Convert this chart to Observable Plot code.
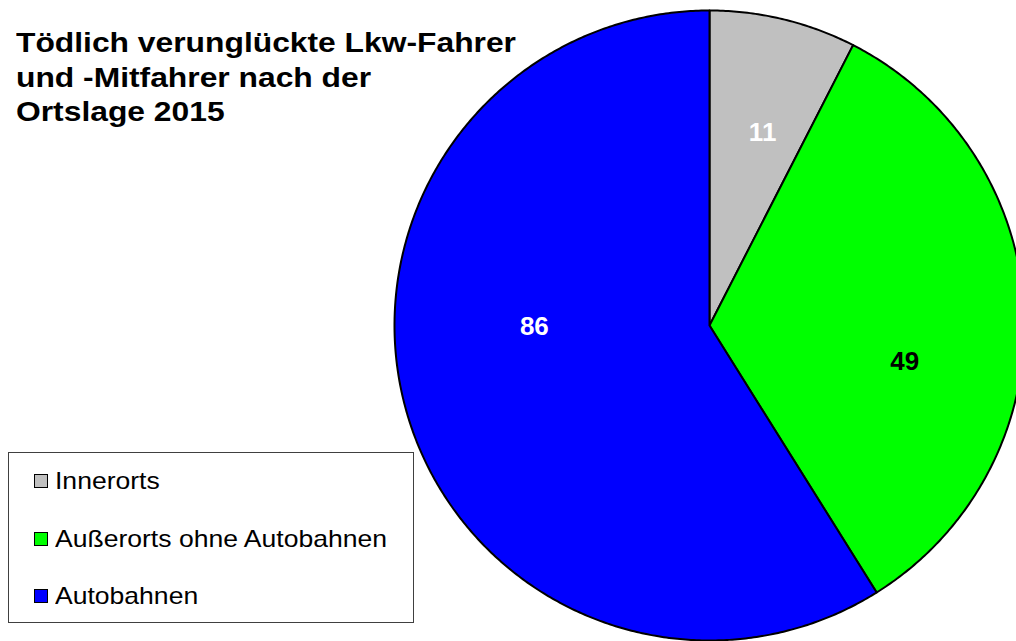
<!DOCTYPE html>
<html>
<head>
<meta charset="utf-8">
<script src="https://cdn.jsdelivr.net/npm/d3@7"></script>
<script src="https://cdn.jsdelivr.net/npm/@observablehq/plot@0.6"></script>
<style>
  html, body { margin: 0; padding: 0; background: #fff; overflow: hidden; width: 1016px; height: 641px; }
  #wrap { position: relative; width: 1016px; height: 641px; font-family: "Liberation Sans", Arial, sans-serif; }
  #chart { position: absolute; left: 0; top: 0; }
  #title { position: absolute; left: 16px; top: 26px; font-size: 28px; line-height: 34.5px; font-weight: bold; color: #000; transform-origin: 0 0; white-space: nowrap; }
  #legend { position: absolute; left: 8px; top: 452px; width: 406px; height: 171px; border: 1px solid #404040; box-sizing: border-box; background: #fff; }
  .item { position: absolute; left: 25px; height: 30px; display: flex; align-items: center; font-size: 24px; color: #000; white-space: nowrap; }
  .sw { width: 12px; height: 12px; border: 1px solid #000; margin-right: 7px; flex: none; }
  .lt { display: inline-block; transform-origin: 0 50%; }
</style>
</head>
<body>
<div id="wrap">
  <div id="chart"></div>
  <div id="title">Tödlich verunglückte Lkw-Fahrer<br>und -Mitfahrer nach der<br>Ortslage 2015</div>
  <div id="legend"></div>
</div>
<script>
// Data
const categories = ["Innerorts", "Außerorts ohne Autobahnen", "Autobahnen"];
const values = [11, 49, 86];
const colors = ["#C0C0C0", "#00FF00", "#0000FF"];
const labelColors = ["#FFFFFF", "#000000", "#FFFFFF"];

// Layout (label placement: angle in degrees clockwise from top, radius fraction)
const labelLayout = [[15.4, 0.635], [100.5, 0.63], [269.5, 0.556]];
const cx = 709, cy = 325, R = 315;

const total = d3.sum(values);
const polys = [];
let start = 0;
values.forEach((v, i) => {
  const sweep = v / total * 360;
  const end = start + sweep;
  polys.push({name: categories[i], color: colors[i], x: 0, y: 0});
  const n = Math.max(2, Math.ceil(sweep / 0.5));
  for (let k = 0; k <= n; k++) {
    const a = (start + sweep * k / n) * Math.PI / 180;
    polys.push({name: categories[i], color: colors[i], x: Math.sin(a), y: Math.cos(a)});
  }
  polys.push({name: categories[i], color: colors[i], x: 0, y: 0});
  start = end;
});

const labels = values.map((v, i) => {
  const a = labelLayout[i][0] * Math.PI / 180, r = labelLayout[i][1];
  return {text: String(v), x: r * Math.sin(a), y: r * Math.cos(a), fill: labelColors[i]};
});

const chart = Plot.plot({
  width: 1016,
  height: 641,
  margin: 0,
  x: {domain: [-1, 1], range: [cx - R, cx + R], axis: null},
  y: {domain: [-1, 1], range: [cy + R, cy - R], axis: null},
  style: {background: "transparent", overflow: "hidden"},
  marks: [
    Plot.line(polys, {x: "x", y: "y", z: "name", fill: "color", stroke: "#000", strokeWidth: 2, strokeLinejoin: "round", curve: "linear"}),
    Plot.text(labels, {x: "x", y: "y", text: "text", fill: "fill", fontSize: 26, fontWeight: "bold", fontFamily: "Liberation Sans, Arial, sans-serif"})
  ]
});
document.getElementById("chart").appendChild(chart);

// Legend
const legend = document.getElementById("legend");
const rowTops = [13, 71, 128];
const spans = [];
categories.forEach((c, i) => {
  const it = document.createElement("div");
  it.className = "item";
  it.style.top = rowTops[i] + "px";
  const sw = document.createElement("span");
  sw.className = "sw";
  sw.style.background = colors[i];
  it.appendChild(sw);
  const lt = document.createElement("span");
  lt.className = "lt";
  lt.textContent = c;
  it.appendChild(lt);
  spans.push(lt);
  legend.appendChild(it);
});
const lw = spans[1].getBoundingClientRect().width;
const ls = 332 / lw;
spans.forEach(s => s.style.transform = `scaleX(${ls})`);

// Stretch title to reference width
const t = document.getElementById("title");
const w = t.getBoundingClientRect().width;
t.style.transform = `scaleX(${500 / w})`;
</script>
</body>
</html>
